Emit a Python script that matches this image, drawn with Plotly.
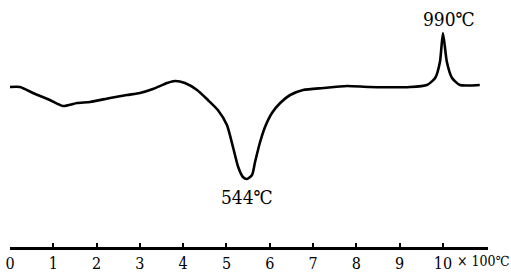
import plotly.graph_objects as go

# Temperature (x 100 °C) and DTA signal (arbitrary units)
temp = [0.00, 0.23, 0.53, 0.92, 1.22, 1.55, 1.85, 2.31, 2.70, 3.00, 3.30, 3.63,
        3.81, 4.04, 4.32, 4.57, 4.80, 5.01, 5.15, 5.27, 5.38, 5.47, 5.59, 5.66,
        5.77, 5.89, 6.05, 6.24, 6.47, 6.77, 7.23, 7.78, 8.31, 9.24, 9.63, 9.82,
        9.93, 10.00, 10.09, 10.21, 10.39, 10.85]
signal = [16.0, 16.0, 15.4, 14.7, 14.1, 14.4, 14.5, 14.9, 15.2, 15.4, 15.8, 16.4,
          16.6, 16.4, 15.7, 14.7, 13.7, 12.2, 10.0, 8.0, 7.0, 6.8, 7.2, 8.5,
          10.4, 12.0, 13.4, 14.4, 15.2, 15.7, 15.9, 16.1, 16.0, 16.0, 16.2, 16.9,
          18.5, 21.4, 18.5, 16.9, 16.2, 16.2]

tick_vals = [0, 1, 2, 3, 4, 5, 6, 7, 8, 9, 10]
tick_text = ["0", "1", "2", "3", "4", "5", "6", "7", "8", "9", "10"]

peak_labels = ["544℃", "990℃"]
peak_x = [5.47, 10.00]
peak_y = [6.8, 21.4]

FONT = "DejaVu Serif Condensed"

fig = go.Figure()
fig.add_trace(go.Scatter(x=temp, y=signal, mode="lines",
                         line=dict(color="black", width=2.6, shape="spline", smoothing=0.6),
                         hoverinfo="skip", showlegend=False))

fig.add_annotation(x=peak_x[0], y=peak_y[0], text=peak_labels[0], showarrow=False,
                   yanchor="top", yshift=-5, font=dict(family=FONT, size=19, color="black"))
fig.add_annotation(x=peak_x[1], y=peak_y[1], text=peak_labels[1], showarrow=False,
                   yanchor="bottom", yshift=1, xshift=6, font=dict(family=FONT, size=19, color="black"))
fig.add_annotation(x=1.0, xref="paper", y=0, yref="paper", text="× 100℃", showarrow=False,
                   xanchor="left", yanchor="top", xshift=-33, yshift=-4,
                   font=dict(family=FONT, size=14, color="black"))

fig.update_layout(
    width=511, height=274,
    margin=dict(l=10, r=23, t=0, b=27),
    paper_bgcolor="white", plot_bgcolor="white",
    xaxis=dict(range=[0, 11.04], tickmode="array", tickvals=tick_vals, ticktext=tick_text,
               showgrid=False, zeroline=False, showline=True, linecolor="black", linewidth=2.5,
               ticks="inside", ticklen=4, tickwidth=1.5, tickcolor="black",
               ticklabeloverflow="allow",
               tickfont=dict(family=FONT, size=16, color="black"), fixedrange=True),
    yaxis=dict(range=[0, 24.7], visible=False, fixedrange=True),
)

fig.write_html("out.html", config={"displayModeBar": False},
               post_script="document.body.style.margin='0';document.body.style.overflow='hidden';")
